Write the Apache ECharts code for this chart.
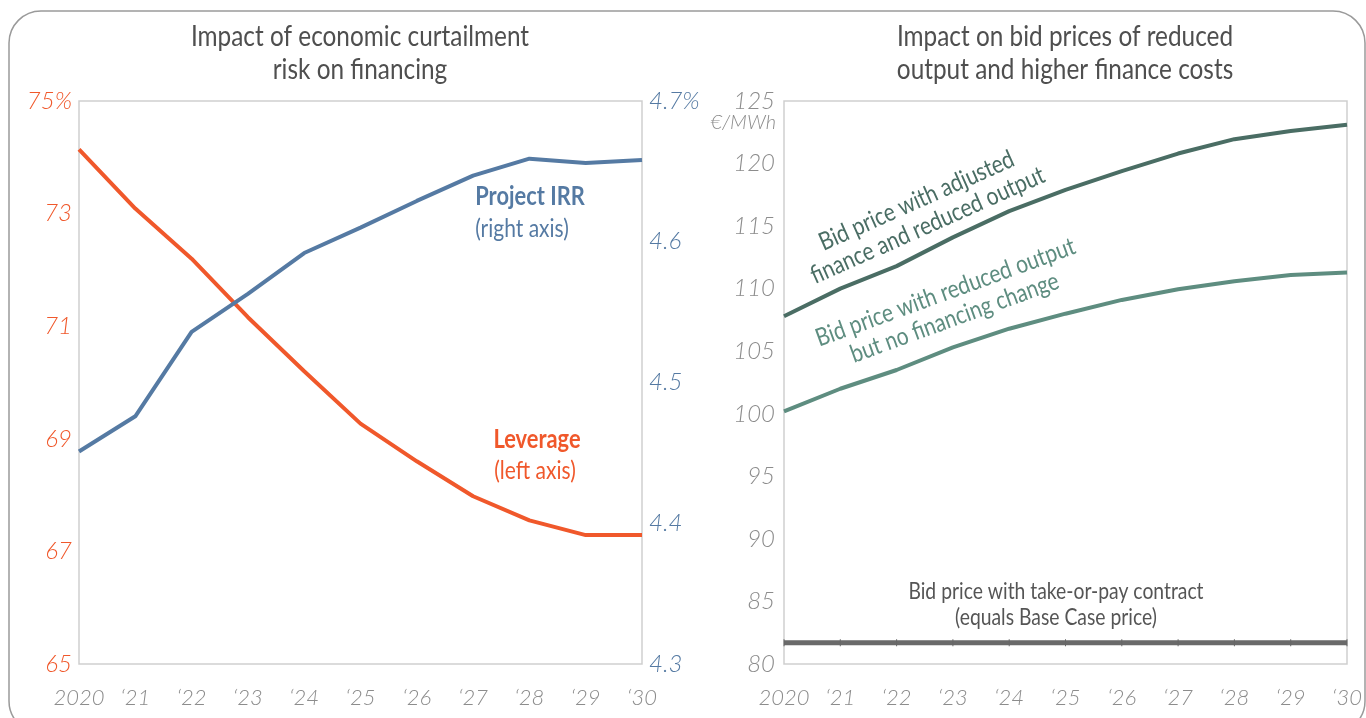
<!DOCTYPE html>
<html>
<head>
<meta charset="utf-8">
<script src="https://cdn.jsdelivr.net/npm/echarts@6/dist/echarts.min.js"></script>
<style>
html, body { margin: 0; padding: 0; background: #fff; }
#main { width: 1366px; height: 718px; }
</style>
</head>
<body>
<div id="main"></div>
<script>
// x categories, same for both panels
var years = ['2020', '\u201821', '\u201822', '\u201823', '\u201824', '\u201825', '\u201826', '\u201827', '\u201828', '\u201829', '\u201830'];

// left panel: leverage (%) on left axis, project IRR (%) on right axis
var leverage = [74.14, 73.09, 72.2, 71.16, 70.2, 69.27, 68.6, 67.98, 67.55, 67.29, 67.29];
var projectIrr = [4.451, 4.476, 4.536, 4.563, 4.592, 4.61, 4.629, 4.647, 4.659, 4.656, 4.658];

// right panel: bid prices, EUR/MWh
var bidAdjusted = [107.8, 110.0, 111.8, 114.1, 116.2, 117.9, 119.4, 120.8, 121.95, 122.6, 123.1];
var bidReduced = [100.2, 102.0, 103.5, 105.3, 106.8, 108.0, 109.1, 109.95, 110.6, 111.1, 111.3];
var bidTakeOrPay = [81.7, 81.7, 81.7, 81.7, 81.7, 81.7, 81.7, 81.7, 81.7, 81.7, 81.7];

var ORANGE = '#f0582b';
var BLUE = '#557aa3';
var DARKGREEN = '#4a6d64';
var GREEN = '#5e8d80';
var GREY = '#6a6a6a';
var textFont = 'Lato, sans-serif';
var labelFont = 'Lato';
var SQUEEZE = 0.84; // no condensed face installed, so squeeze the annotation text

var chart = echarts.init(document.getElementById('main'), null, { renderer: 'canvas' });

function xAxisFor(gridIndex) {
    return {
        type: 'category',
        gridIndex: gridIndex,
        data: years,
        boundaryGap: false,
        axisLine: { show: false },
        axisTick: { show: false },
        axisLabel: {
            interval: 0, hideOverlap: false,
            color: '#8c8c8c', fontFamily: labelFont, fontStyle: 'italic', fontWeight: 300,
            fontSize: 22, margin: 23
        },
        splitLine: { show: false }
    };
}

function note(x, y, text, color, size, opts) {
    opts = opts || {};
    return {
        type: 'text', x: x, y: y, scaleX: SQUEEZE, rotation: (opts.rot || 0) * Math.PI / 180,
        style: {
            text: text, align: 'center', verticalAlign: 'middle', fill: color,
            font: (opts.bold ? 'bold ' : '') + size + 'px ' + textFont, lineHeight: opts.lh || size + 4
        }
    };
}

chart.setOption({
    animation: false,
    grid: [
        { left: 79, top: 101, width: 563, height: 563, show: true, borderColor: '#cfcfcf', borderWidth: 1.5 },
        { left: 784, top: 101, width: 563, height: 563, show: true, borderColor: '#cfcfcf', borderWidth: 1.5 }
    ],
    xAxis: [xAxisFor(0), xAxisFor(1)],
    yAxis: [
        {
            type: 'value', gridIndex: 0, min: 65, max: 75, interval: 1,
            axisLine: { show: false }, axisTick: { show: false }, splitLine: { show: false },
            axisLabel: {
                color: ORANGE, fontFamily: labelFont, fontStyle: 'italic', fontWeight: 300, fontSize: 24, margin: 7,
                formatter: function (v) {
                    if ((Math.round(v) - 65) % 2 !== 0) return '';
                    return v === 75 ? '75%' : String(v);
                }
            }
        },
        {
            type: 'value', gridIndex: 0, position: 'right', min: 4.3, max: 4.7, interval: 0.1,
            axisLine: { show: false }, axisTick: { show: false }, splitLine: { show: false },
            axisLabel: {
                color: BLUE, fontFamily: labelFont, fontStyle: 'italic', fontWeight: 300, fontSize: 24, margin: 7,
                formatter: function (v) {
                    var s = v.toFixed(1);
                    return s === '4.7' ? '4.7%' : s;
                }
            }
        },
        {
            type: 'value', gridIndex: 1, min: 80, max: 125, interval: 5,
            axisLine: { show: false }, axisTick: { show: false }, splitLine: { show: false },
            axisLabel: {
                color: '#8c8c8c', fontFamily: labelFont, fontStyle: 'italic', fontWeight: 300, fontSize: 24, margin: 9
            }
        }
    ],
    series: [
        {
            name: 'Leverage', type: 'line', xAxisIndex: 0, yAxisIndex: 0, data: leverage,
            symbol: 'none', lineStyle: { color: ORANGE, width: 4 }, z: 3
        },
        {
            name: 'Project IRR', type: 'line', xAxisIndex: 0, yAxisIndex: 1, data: projectIrr,
            symbol: 'none', lineStyle: { color: BLUE, width: 4 }, z: 3
        },
        {
            name: 'Adjusted finance', type: 'line', xAxisIndex: 1, yAxisIndex: 2, data: bidAdjusted,
            symbol: 'none', lineStyle: { color: DARKGREEN, width: 4 }
        },
        {
            name: 'Reduced output', type: 'line', xAxisIndex: 1, yAxisIndex: 2, data: bidReduced,
            symbol: 'none', lineStyle: { color: GREEN, width: 4 }
        },
        {
            name: 'Take-or-pay', type: 'line', xAxisIndex: 1, yAxisIndex: 2, data: bidTakeOrPay,
            symbol: 'rect', symbolSize: [1, 7], showAllSymbol: true,
            itemStyle: { color: '#666666', borderWidth: 0 },
            lineStyle: { color: GREY, width: 5 }
        }
    ],
    graphic: [
        {
            type: 'rect', z: -1, silent: true,
            shape: { x: 9, y: 11, width: 1356, height: 722, r: 32 },
            style: { fill: 'none', stroke: '#9a9a9a', lineWidth: 1.5 }
        },
        note(360, 53, 'Impact of economic curtailment\nrisk on financing', '#4f4f4f', 29, { lh: 33 }),
        note(1065, 53, 'Impact on bid prices of reduced\noutput and higher finance costs', '#4f4f4f', 29, { lh: 33 }),
        note(530, 197, 'Project IRR', BLUE, 26, { bold: true }),
        note(522, 229, '(right axis)', BLUE, 25),
        note(537, 440, 'Leverage', ORANGE, 26, { bold: true }),
        note(535, 471, '(left axis)', ORANGE, 25),
        {
            type: 'text', x: 776, y: 123,
            style: { text: '\u20ac/MWh', align: 'right', verticalAlign: 'middle', fill: '#8c8c8c', font: 'italic 300 20px ' + labelFont }
        },
        note(922, 213, 'Bid price with adjusted\nfinance and reduced output', DARKGREEN, 25, { rot: 24, lh: 27 }),
        note(950, 305, 'Bid price with reduced output\nbut no financing change', GREEN, 25, { rot: 20, lh: 27 }),
        note(1056, 605, 'Bid price with take-or-pay contract\n(equals Base Case price)', '#555555', 23, { lh: 26 })
    ]
});
</script>
</body>
</html>
